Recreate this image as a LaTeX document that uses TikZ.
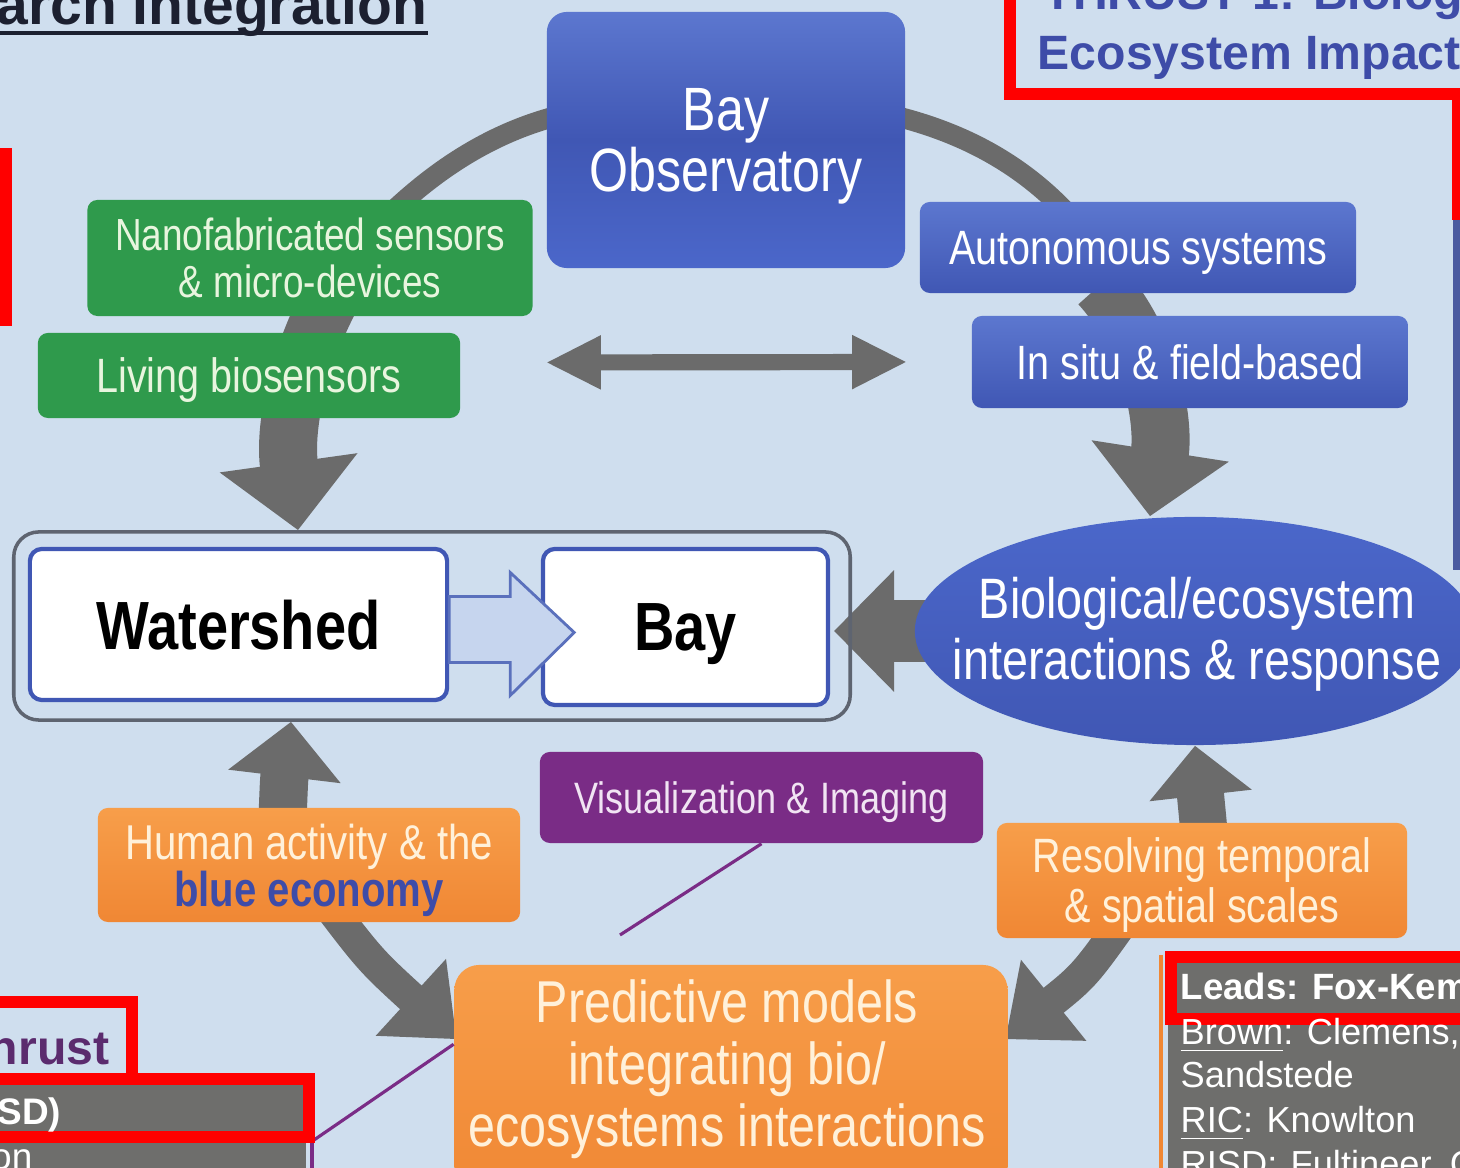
\documentclass[tikz,border=0pt]{standalone}
\usepackage{fontspec}
\setmainfont{Liberation Sans}
\newfontfamily\narrowsf{Liberation Sans}[FakeStretch=0.82]
\usetikzlibrary{arrows.meta,calc,shapes.geometric}
\definecolor{BayBackdrop}{HTML}{CFDEEE}
\definecolor{BayRing}{HTML}{6B6B6B}
\definecolor{BayGreen}{HTML}{2F9A4C}
\definecolor{BayGreenText}{HTML}{E8F5DE}
\definecolor{BayBlue}{HTML}{4057B4}
\definecolor{BayBlueLight}{HTML}{5C77CF}
\definecolor{BayBlueMid}{HTML}{4B67CA}
\definecolor{BayOrange}{HTML}{F08734}
\definecolor{BayOrangeLight}{HTML}{F79E4A}
\definecolor{BayCream}{HTML}{FFF1DA}
\definecolor{BayPurple}{HTML}{7A2C86}
\definecolor{BayLilac}{HTML}{F1E4F3}
\definecolor{BayNavy}{HTML}{3E4CA8}
\definecolor{BayBar}{HTML}{4A5AA0}
\definecolor{BayMark}{HTML}{FF0000}
\definecolor{BayPanel}{HTML}{6E6E6C}
\definecolor{BayFlow}{HTML}{C6D5EE}
\definecolor{BayFlowEdge}{HTML}{5A70BC}
\definecolor{BayFrame}{HTML}{5E6470}
\definecolor{BayTitle}{HTML}{1C2030}
\definecolor{BayPlum}{HTML}{5B2B6E}
\newcommand{\boxfont}[2]{\narrowsf\fontsize{#1}{#2}\selectfont}
\pgfdeclarelayer{back}
\pgfsetlayers{back,main}

\begin{document}
\begin{tikzpicture}[x=0.01cm, y=-0.01cm,
    box/.style={rounded corners=0.1cm, inner sep=0pt, align=center, text depth=0pt},
    greenbox/.style={box, fill=BayGreen, text=BayGreenText},
    bluebox/.style={box, top color=BayBlueLight, bottom color=BayBlue, text=white},
    orangebox/.style={box, top color=BayOrangeLight, bottom color=BayOrange, text=BayCream},
    placebox/.style={box, rounded corners=0.12cm, fill=white, draw=BayBlue, line width=1.2pt,
      font=\narrowsf\bfseries\fontsize{19.4pt}{20pt}\selectfont},
    redmark/.style={BayMark, line width=3.4pt},
    lead/.style={anchor=base west, inner sep=0pt, text=white, font=\fontsize{10.3pt}{12pt}\selectfont},
  ]
  \useasboundingbox (0,0) rectangle (1460,1168);
  \clip (0,0) rectangle (1460,1168);

  \node[bluebox, minimum width=3.58cm, minimum height=2.56cm, rounded corners=0.2cm,
    top color=BayBlueLight, bottom color=BayBlueMid, middle color=BayBlue,
    font=\boxfont{17.4pt}{17.4pt}] (obs) at (726,140) {Bay\\Observatory};
  \node[greenbox, minimum width=4.45cm, minimum height=1.16cm, font=\boxfont{12.8pt}{13.4pt}]
    (nano) at (310,258) {Nanofabricated sensors\\\& micro-devices};
  \node[greenbox, minimum width=4.22cm, minimum height=0.85cm, font=\boxfont{13.7pt}{14pt}]
    (living) at (249,375.5) {Living biosensors};
  \node[bluebox, minimum width=4.36cm, minimum height=0.91cm, font=\boxfont{13.7pt}{14pt}]
    (auto) at (1138,247.5) {Autonomous systems};
  \node[bluebox, minimum width=4.36cm, minimum height=0.92cm, font=\boxfont{13.7pt}{14pt}]
    (insitu) at (1190,362) {In situ \& field-based};

  \node[draw=BayFrame, line width=1pt, rounded corners=0.25cm, minimum width=8.36cm, minimum height=1.88cm]
    (frame) at (432,626) {};
  \node[placebox, minimum width=4.17cm, minimum height=1.51cm] (watershed) at (238.5,624.5) {Watershed};
  \node[placebox, minimum width=2.85cm, minimum height=1.56cm] (bay) at (685.5,627) {Bay};
  \draw[fill=BayFlow, draw=BayFlowEdge, line width=0.8pt]
    ($(watershed.east)+(0,-28)$) -- ++(61,0) -- ++(0,-24) -- ++(64,60) -- ++(-64,63) -- ++(0,-33) -- ++(-61,0) -- cycle;

  \node[ellipse, inner sep=0pt, minimum width=5.6cm, minimum height=2.28cm,
    top color=BayBlueMid, bottom color=BayBlue] (bio) at (1195,631) {};
  \node[text=white, align=center, text depth=0pt, font=\boxfont{16.2pt}{17.4pt}]
    (biotext) at (1197,628) {Biological/ecosystem\\interactions \& response};

  \node[orangebox, minimum width=4.22cm, minimum height=1.14cm, font=\boxfont{13.9pt}{13.4pt}]
    (human) at (309,865) {Human activity \& the\\\textcolor{BayNavy}{\bfseries blue economy}};
  \node[box, fill=BayPurple, text=BayLilac, minimum width=4.43cm, minimum height=0.91cm,
    font=\boxfont{12.5pt}{13pt}] (vis) at (761.5,797.5) {Visualization \& Imaging};
  \node[orangebox, minimum width=4.1cm, minimum height=1.15cm, font=\boxfont{13.7pt}{14.2pt}]
    (resolve) at (1202,880.5) {Resolving temporal\\\& spatial scales};
  \node[orangebox, rounded corners=0.25cm, minimum width=5.53cm, minimum height=2.3cm] (pred) at (731,1080) {};
  \node[text=BayCream, align=center, text depth=0pt, font=\boxfont{16.8pt}{17.6pt}]
    (predtext) at (727,1063) {Predictive models\\integrating bio/\\ecosystems interactions};

  \coordinate (duplexL) at ($(living.east)+(85,-13)$);
  \coordinate (duplexR) at ($(insitu.west)+(-64,0)$);
  \draw[BayRing, line width=4.6pt, {Triangle[length=0.55cm,width=0.5cm]}-{Triangle[length=0.55cm,width=0.5cm]}]
    (duplexL) -- (duplexR);

  \coordinate (visend) at (620,935);
  \coordinate (thrustcorner) at (314,1140);
  \draw[BayPurple, line width=0.9pt] (vis.south) -- (visend);
  \draw[BayPurple, line width=0.9pt] ($(pred.north west)+(0,80)$) -- (thrustcorner);

  \begin{pgfonlayer}{back}
    \fill[BayBackdrop] (0,0) rectangle (1460,1168);
    % ring behind the boxes
    \draw[BayRing, line width=5.8pt] ($(obs.west)+(15,-25)$) .. controls (480,135) and (410,185) .. (345,262);
    \draw[BayRing, line width=5.8pt] ($(obs.east)+(-15,-25)$) .. controls (975,135) and (1040,175) .. (1090,240);
    \draw[BayRing, line width=16.5pt, -{Triangle[length=0.68cm,width=1.35cm]}]
      (335,290) .. controls (296,360) and (284,430) .. ($(frame.north west)+(286,0)$);
    \draw[BayRing, line width=16.5pt, -{Triangle[length=0.66cm,width=1.35cm]}]
      (1100,285) .. controls (1150,340) and (1165,420) .. ($(bio.north)+(-45,0)$);
    \draw[BayRing, line width=17.9pt, -{Triangle[length=0.6cm,width=1.18cm]}]
      ($(bio.west)+(40,0)$) -- ($(frame.east |- bio.west)+(-18,0)$);
    \draw[BayRing, line width=13.4pt, -{Triangle[length=0.5cm,width=1.0cm]}]
      ($(resolve.north)+(3,20)$) .. controls (1200,790) .. (bio.south);
    \draw[BayRing, line width=13.7pt, -{Triangle[length=0.55cm,width=1.1cm]}]
      ($(human.north)+(-27,25)$) .. controls (284,780) .. ($(frame.south west)+(279,0)$);
    \draw[BayRing, line width=9.1pt, -{Triangle[length=0.62cm,width=1.0cm]}]
      ($(human.south)+(10,-30)$) .. controls (370,960) .. ($(pred.north west)+(3,75)$);
    \draw[BayRing, line width=9.1pt, -{Triangle[length=0.62cm,width=1.0cm]}]
      ($(resolve.south)+(-70,-30)$) .. controls (1085,975) .. ($(pred.north east)+(-3,75)$);
  \end{pgfonlayer}

  % headings at the edges
  \node[anchor=base east, inner sep=0pt, text=BayTitle, font=\bfseries\fontsize{16.2pt}{18pt}\selectfont]
    (title) at (428,25) {arch Integration};
  \draw[BayTitle, line width=1.4pt] ($(title.base west)+(0,8)$) -- ($(title.base east)+(0,8)$);
  \node[anchor=base west, inner sep=0pt, text=BayNavy, font=\bfseries\fontsize{13.7pt}{16pt}\selectfont]
    (thrusttop) at (1043,10) {THRUST 1: Biologi};
  \node[anchor=base west, inner sep=0pt, text=BayNavy, font=\bfseries\fontsize{13.7pt}{16pt}\selectfont]
    (impact) at (1037,70) {Ecosystem Impact};
  \draw[redmark] (1010,-20) -- (1010,94) -- (1458,94) -- (1458,220);
  \fill[BayBar] (1453,220) rectangle (1462,570);
  \draw[redmark] (-30,154) rectangle (6,320);

  % lead panel, lower right
  \fill[BayPanel] (1168,955) rectangle (1470,1180);
  \draw[BayOrange, line width=1.2pt] (1161,955) -- (1161,1180);
  \draw[redmark] (1171,957) rectangle (1475,1019);
  \node[lead, font=\bfseries\fontsize{10.4pt}{12pt}\selectfont] (leads) at (1180,1000) {Leads: Fox-Kem};
  \foreach \y/\entry [count=\i] in {1045/{\underline{Brown}: Clemens,}, 1088/{Sandstede},
      1133/{\underline{RIC}: Knowlton}, 1177/{\underline{RISD}: Fultineer, G}}
    \node[lead] (member\i) at (1180,\y) {\entry};

  % thrust panel, lower left
  \fill[BayPanel] (-20,1085) rectangle (306,1190);
  \draw[BayPurple, line width=0.9pt] (312,1140) -- (312,1190);
  \draw[redmark] (-20,1002) rectangle (132,1079);
  \draw[redmark] (-20,1079) rectangle (309,1137);
  \node[anchor=base east, inner sep=0pt, text=BayPlum, font=\bfseries\fontsize{13.7pt}{16pt}\selectfont]
    (thrustlow) at (110,1065) {hrust};
  \node[anchor=base east, inner sep=0pt, text=white, font=\bfseries\fontsize{10.5pt}{12pt}\selectfont]
    (school) at (62,1125) {SD)};
  \node[anchor=base east, inner sep=0pt, text=white, font=\fontsize{10.5pt}{12pt}\selectfont]
    (tail) at (33,1170) {on};
\end{tikzpicture}
\end{document}
